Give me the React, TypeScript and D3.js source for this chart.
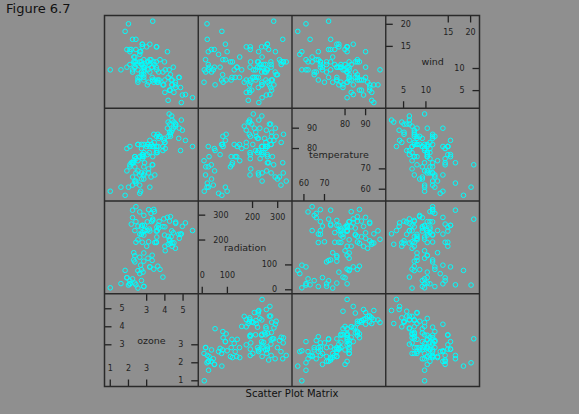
import React from "react";
import { scaleLinear, extent } from "d3";

// environmental data (complete cases), 111 days
const ozone = [41, 36, 12, 18, 23, 19, 8, 16, 11, 14, 18, 14, 34, 6, 30, 11, 1, 11, 4, 32, 23, 45, 115, 37, 29, 71, 39, 23, 21, 37, 20, 12, 13, 135, 49, 32, 64, 40, 77, 97, 97, 85, 10, 27, 7, 48, 35, 61, 79, 63, 16, 80, 108, 20, 52, 82, 50, 64, 59, 39, 9, 16, 122, 89, 110, 44, 28, 65, 22, 59, 23, 31, 44, 21, 9, 45, 168, 73, 76, 118, 84, 85, 96, 78, 73, 91, 47, 32, 20, 23, 21, 24, 44, 21, 28, 9, 13, 46, 18, 13, 24, 16, 13, 23, 36, 7, 14, 30, 14, 18, 20];
const radiation = [190, 118, 149, 313, 299, 99, 19, 256, 290, 274, 65, 334, 307, 78, 322, 44, 8, 320, 25, 92, 13, 252, 223, 279, 127, 291, 323, 148, 191, 284, 37, 120, 137, 269, 248, 236, 175, 314, 276, 267, 272, 175, 264, 175, 48, 260, 274, 285, 187, 220, 7, 294, 223, 81, 82, 213, 275, 253, 254, 83, 24, 77, 255, 229, 207, 192, 273, 157, 71, 51, 115, 244, 190, 259, 36, 212, 238, 215, 203, 225, 237, 188, 167, 197, 183, 189, 95, 92, 252, 220, 230, 259, 236, 259, 238, 24, 112, 237, 224, 27, 238, 201, 238, 14, 139, 49, 20, 193, 191, 131, 223];
const temperature = [67, 72, 74, 62, 65, 59, 61, 69, 66, 68, 58, 64, 66, 57, 68, 62, 59, 73, 61, 61, 67, 81, 79, 76, 82, 90, 87, 82, 77, 72, 65, 73, 76, 84, 85, 81, 83, 83, 88, 92, 92, 89, 73, 81, 80, 81, 82, 84, 87, 85, 74, 86, 85, 82, 86, 88, 86, 83, 81, 81, 81, 82, 89, 90, 90, 86, 82, 80, 77, 79, 76, 78, 78, 77, 72, 79, 81, 86, 97, 94, 96, 94, 91, 92, 93, 93, 87, 84, 80, 78, 75, 73, 81, 76, 77, 71, 71, 78, 67, 76, 68, 82, 64, 71, 81, 69, 63, 70, 75, 76, 68];
const wind = [7.4, 8.0, 12.6, 11.5, 8.6, 13.8, 20.1, 9.7, 9.2, 10.9, 13.2, 11.5, 12.0, 18.4, 11.5, 9.7, 9.7, 16.6, 9.7, 12.0, 12.0, 14.9, 5.7, 7.4, 9.7, 13.8, 11.5, 8.0, 14.9, 20.7, 9.2, 11.5, 10.3, 4.1, 9.2, 9.2, 4.6, 10.9, 5.1, 6.3, 5.7, 7.4, 14.3, 14.9, 14.3, 6.9, 10.3, 6.3, 5.1, 11.5, 6.9, 8.6, 8.0, 8.6, 12.0, 7.4, 7.4, 7.4, 9.2, 6.9, 13.8, 7.4, 4.0, 10.3, 8.0, 11.5, 11.5, 9.7, 10.3, 6.3, 7.4, 10.9, 10.3, 15.5, 14.3, 9.7, 3.4, 8.0, 9.7, 2.3, 6.3, 6.3, 6.9, 5.1, 2.8, 4.6, 7.4, 15.5, 10.9, 10.3, 10.9, 9.7, 14.9, 15.5, 6.3, 10.9, 11.5, 6.9, 13.8, 10.3, 10.3, 8.0, 12.6, 9.2, 10.3, 10.3, 16.6, 6.9, 14.3, 8.0, 11.5];

const varNames = ["ozone", "radiation", "temperature", "wind"];
// ticks drawn on the diagonal panels: lower half bottom/right, upper half top/left
const lowTicks = [[1, 2, 3], [0, 100], [60, 70], [5, 10]];
const highTicks = [[3, 4, 5], [200, 300], [80, 90], [15, 20]];

const W = 579;
const H = 414;
const left = 104.5, right = 479.5, top = 15.5, bottom = 386.5;
const bg = "#8f8f8f";
const ink = "#222";
const pointColor = "#00ffff";

export default function App() {
  // ozone is plotted on the cube-root scale
  const columns = [ozone.map(Math.cbrt), radiation, temperature, wind];
  const n = columns.length;
  const pw = (right - left) / n;
  const ph = (bottom - top) / n;

  const domains = columns.map(col => {
    const [lo, hi] = extent(col) as [number, number];
    const pad = (hi - lo) * 0.07;
    return [lo - pad, hi + pad];
  });
  const xScales = domains.map((d, i) => scaleLinear().domain(d).range([left + i * pw, left + (i + 1) * pw]));
  // row 0 is at the bottom
  const yScales = domains.map((d, i) => scaleLinear().domain(d).range([bottom - i * ph, bottom - (i + 1) * ph]));

  const tick = 7;
  const labelStyle = { fontFamily: "DejaVu Sans, sans-serif", fontSize: 8, fill: ink };

  const panels = [];
  for (let row = 0; row < n; row++) {
    for (let col = 0; col < n; col++) {
      const x = xScales[col];
      const y = yScales[row];
      const x0 = left + col * pw, x1 = x0 + pw;
      const y1 = bottom - row * ph, y0 = y1 - ph;
      if (row === col) {
        panels.push(
          <g key={`d${row}`}>
            <text x={(x0 + x1) / 2} y={(y0 + y1) / 2} textAnchor="middle" dominantBaseline="central"
              style={{ ...labelStyle, fontSize: 9.5 }}>{varNames[row]}</text>
            {lowTicks[row].map(v => (
              <g key={`b${v}`}>
                <line x1={x(v)} x2={x(v)} y1={y1} y2={y1 - tick} stroke={ink} strokeWidth={1.3} />
                <text x={x(v)} y={y1 - 15.5} textAnchor="middle" style={labelStyle}>{v}</text>
                <line x1={x1} x2={x1 - tick} y1={y(v)} y2={y(v)} stroke={ink} strokeWidth={1.3} />
                <text x={x1 - 15} y={y(v)} textAnchor="end" dominantBaseline="central" style={labelStyle}>{v}</text>
              </g>
            ))}
            {highTicks[row].map(v => (
              <g key={`t${v}`}>
                <line x1={x(v)} x2={x(v)} y1={y0} y2={y0 + tick} stroke={ink} strokeWidth={1.3} />
                <text x={x(v)} y={y0 + 19} textAnchor="middle" style={labelStyle}>{v}</text>
                <line x1={x0} x2={x0 + tick} y1={y(v)} y2={y(v)} stroke={ink} strokeWidth={1.3} />
                <text x={x0 + 15} y={y(v)} textAnchor="start" dominantBaseline="central" style={labelStyle}>{v}</text>
              </g>
            ))}
          </g>
        );
      } else {
        panels.push(
          <g key={`p${row}-${col}`}>
            {columns[col].map((v, k) => (
              <circle key={k} cx={x(v)} cy={y(columns[row][k])} r={2.3}
                fill="none" stroke={pointColor} strokeWidth={1} />
            ))}
          </g>
        );
      }
    }
  }

  const grid = [];
  for (let i = 1; i < n; i++) {
    grid.push(<line key={`v${i}`} x1={left + i * pw} x2={left + i * pw} y1={top} y2={bottom} stroke="#2a2a2a" strokeWidth={1.4} />);
    grid.push(<line key={`h${i}`} x1={left} x2={right} y1={top + i * ph} y2={top + i * ph} stroke="#2a2a2a" strokeWidth={1.4} />);
  }

  return (
    <svg width={W} height={H} style={{ position: "absolute", left: 0, top: 0, background: bg }}>
      <rect x={0} y={0} width={W} height={H} fill={bg} />
      <text x={6} y={13} style={{ fontFamily: "DejaVu Sans, sans-serif", fontSize: 13, fill: "#111" }}>Figure 6.7</text>
      {panels}
      {grid}
      <rect x={left} y={top} width={right - left} height={bottom - top} fill="none" stroke="#2a2a2a" strokeWidth={1.5} />
      <text x={(left + right) / 2} y={397} textAnchor="middle"
        style={{ fontFamily: "DejaVu Sans, sans-serif", fontSize: 10, fill: "#111" }}>Scatter Plot Matrix</text>
    </svg>
  );
}
